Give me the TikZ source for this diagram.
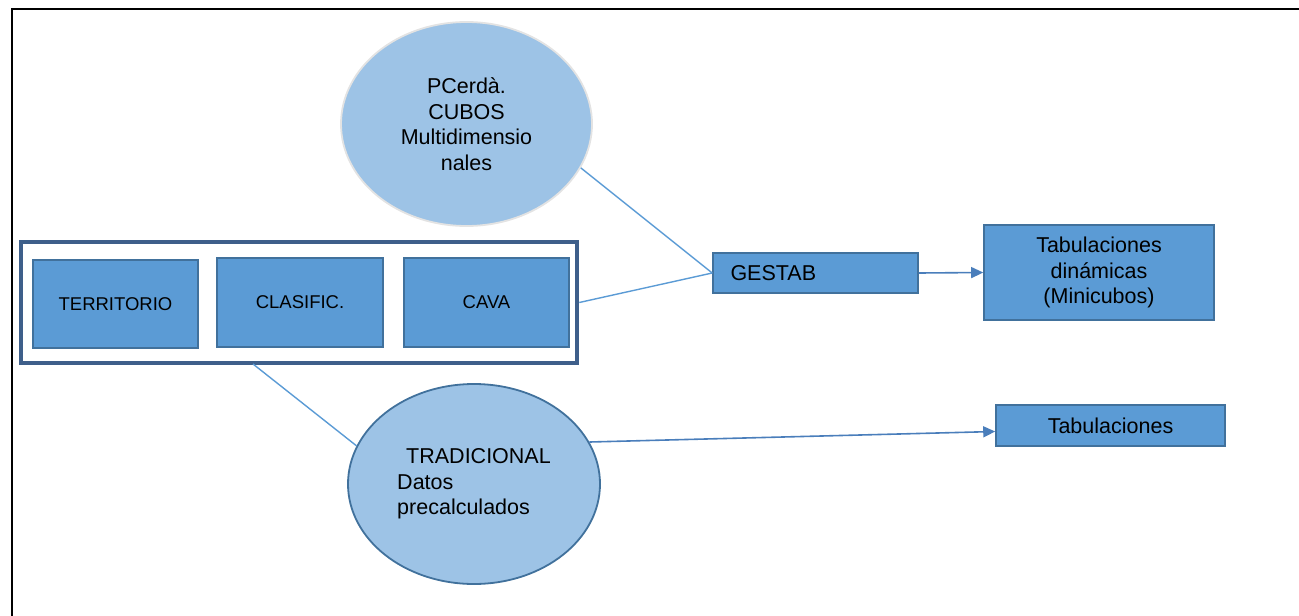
\documentclass[tikz,border=0pt]{standalone}
\usepackage{fontspec}
\setmainfont{Liberation Sans}
\usetikzlibrary{arrows.meta,shapes.geometric}
\definecolor{boxfill}{HTML}{5B9BD5}
\definecolor{boxline}{HTML}{41719C}
\definecolor{ellfill}{HTML}{9DC3E6}
\definecolor{outerline}{HTML}{3E5F8A}
\definecolor{conn}{HTML}{5B9BD5}
\definecolor{arrline}{HTML}{4A7EBB}
\tikzset{
  bluebox/.style={draw=boxline, fill=boxfill, line width=1.6pt, inner sep=0pt,
    font=\fontsize{18.5}{22}\selectfont},
  bigtext/.style={font=\fontsize{21.5}{25.5}\selectfont},
  bubble/.style={ellipse, fill=ellfill, line width=1.8pt, inner sep=0pt, bigtext},
  connector/.style={draw=conn, line width=1.4pt},
  arrowline/.style={draw=arrline, line width=1.6pt, -{Triangle[length=12pt,width=11pt]}},
  frameline/.style={draw=black, line width=2.6pt}
}
\begin{document}
\begin{tikzpicture}[x=1pt,y=-1pt]
\useasboundingbox (0,0) rectangle (1299,616);
% frame
\coordinate (fa) at (12,616);
\coordinate (fb) at (12,9);
\coordinate (fc) at (1299,9);
\draw[frameline] (fa) -- (fb) -- (fc);
% outer rectangle
\node[draw=outerline, line width=4.5pt, minimum width=556pt, minimum height=121pt, inner sep=0pt] (outer) at (299,302.5) {};
\node[bluebox, minimum width=165pt, minimum height=88pt] (terr) at (115.5,304) {TERRITORIO};
\node[bluebox, minimum width=166pt, minimum height=89pt] (clas) at (300,302.5) {CLASIFIC.};
\node[bluebox, minimum width=165pt, minimum height=89pt] (cava) at (486.5,302.5) {CAVA};
% ellipses
\node[bubble, draw=gray!22, minimum width=251pt, minimum height=204pt, align=center] (top) at (466.5,124) {PCerdà.\\CUBOS\\Multidimensio\\nales};
\node[bubble, draw=boxline, minimum width=252pt, minimum height=200pt, align=left] (trad) at (474,484) {\hspace*{9pt}TRADICIONAL\\Datos\\precalculados};
% right boxes
\node[bluebox, bigtext, minimum width=205pt, minimum height=40pt, text width=170pt, align=left, inner sep=0pt] (gestab) at (815.5,273) {GESTAB};
\node[bluebox, bigtext, minimum width=230pt, minimum height=95pt, align=center] (tabdyn) at (1099,272.5) {Tabulaciones\\dinámicas\\(Minicubos)};
\node[bluebox, bigtext, minimum width=229pt, minimum height=41pt] (tab) at (1110.5,425.5) {Tabulaciones};
% connectors
\coordinate (outbot) at (253,364);
\draw[connector] (top.-21.6) -- (gestab.west);
\draw[connector] (outer.east) -- (gestab.west);
\draw[connector] (outbot) -- (trad.162.8);
\draw[arrowline] (gestab.east) -- (tabdyn.west);
\draw[arrowline] (trad.20.8) -- ([yshift=-6pt]tab.west);
\end{tikzpicture}
\end{document}
